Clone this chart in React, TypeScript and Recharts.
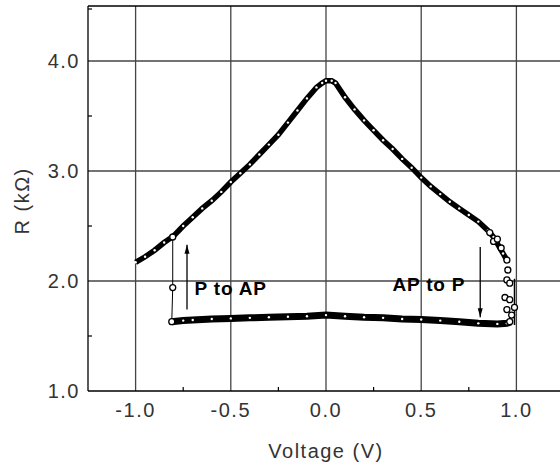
import React from 'react';
import { ScatterChart, Scatter, XAxis, YAxis, ReferenceLine, ReferenceDot } from 'recharts';

// AP branch (high resistance), sweep from -1.0 V to +0.95 V
const upperV = [-1.0, -0.95, -0.9, -0.85, -0.8, -0.75, -0.7, -0.65, -0.6, -0.55, -0.5, -0.45, -0.4, -0.35, -0.3, -0.25, -0.2, -0.15, -0.1, -0.05, -0.02, 0.0, 0.03, 0.05, 0.1, 0.15, 0.2, 0.25, 0.3, 0.35, 0.4, 0.45, 0.5, 0.55, 0.6, 0.65, 0.7, 0.75, 0.8, 0.85, 0.88, 0.91, 0.93, 0.95];
const upperR = [2.17, 2.22, 2.28, 2.35, 2.41, 2.5, 2.58, 2.66, 2.73, 2.81, 2.9, 2.98, 3.06, 3.15, 3.24, 3.33, 3.44, 3.55, 3.66, 3.76, 3.8, 3.82, 3.82, 3.8, 3.67, 3.56, 3.46, 3.37, 3.28, 3.2, 3.11, 3.03, 2.94, 2.86, 2.79, 2.72, 2.66, 2.6, 2.54, 2.46, 2.4, 2.31, 2.25, 2.19];

// AP -> P switching points near +1.0 V
const apToPV = [0.86, 0.88, 0.9, 0.92, 0.95, 0.955, 0.95, 0.965, 0.94, 0.965, 0.99, 0.95, 0.975, 0.965];
const apToPR = [2.44, 2.36, 2.38, 2.3, 2.19, 2.1, 2.01, 1.98, 1.85, 1.83, 1.76, 1.74, 1.69, 1.63];
const apToPLineV = [0.99, 0.99];
const apToPLineR = [2.02, 1.6];

// P branch (low resistance)
const lowerV = [-0.81, -0.75, -0.7, -0.6, -0.5, -0.4, -0.3, -0.2, -0.1, 0.0, 0.1, 0.2, 0.3, 0.4, 0.5, 0.6, 0.7, 0.8, 0.9, 0.95, 0.97];
const lowerR = [1.63, 1.64, 1.645, 1.655, 1.66, 1.665, 1.67, 1.675, 1.68, 1.69, 1.68, 1.67, 1.665, 1.655, 1.65, 1.64, 1.63, 1.615, 1.61, 1.615, 1.63];

// P -> AP switching near -0.8 V
const pToAPV = [-0.805, -0.805, -0.81];
const pToAPR = [2.4, 1.94, 1.63];

// Axis ticks
const xTicks = [-1.0, -0.75, -0.5, -0.25, 0.0, 0.25, 0.5, 0.75, 1.0];
const xMajor = [-1.0, -0.5, 0.0, 0.5, 1.0];
const yTicks = [1.0, 1.5, 2.0, 2.5, 3.0, 3.5, 4.0, 4.5];
const yMajor = [1.0, 2.0, 3.0, 4.0];
const yGrid = [2.0, 3.0, 4.0];

// Annotations
const arrowUp = { v: -0.73, from: 1.74, to: 2.33 };
const arrowDown = { v: 0.81, from: 2.31, to: 1.67 };
const labelPtoAP = { v: -0.69, r: 1.93, text: 'P to AP' };
const labelAPtoP = { v: 0.349, r: 1.97, text: 'AP to P' };

const zip = (xs: number[], ys: number[]) => xs.map((v, i) => ({ v, r: ys[i] }));

const upperData = zip(upperV, upperR);
const lowerData = zip(lowerV, lowerR);
const apToPData = zip(apToPV, apToPR);
const apToPLine = zip(apToPLineV, apToPLineR);
const pToAPData = zip(pToAPV, pToAPR);

const FONT = '"Liberation Sans", Arial, sans-serif';

const XTick = (props: any) => {
  const { x, y, payload } = props;
  const major = xMajor.includes(payload.value);
  if (!major) {
    return <line x1={x} x2={x} y1={y} y2={y - 4} stroke="#000" strokeWidth={1.2} />;
  }
  return (
    <text x={x} y={y + 19} textAnchor="middle" dominantBaseline="central" fontFamily={FONT} fontSize={20} letterSpacing={1.5} fill="#333">
      {payload.value.toFixed(1)}
    </text>
  );
};

const YTick = (props: any) => {
  const { x, y, payload } = props;
  const major = yMajor.includes(payload.value);
  if (!major) {
    return <line x1={x} x2={x + 4} y1={y} y2={y} stroke="#000" strokeWidth={1.2} />;
  }
  return (
    <text x={x - 8} y={y} textAnchor="end" dominantBaseline="central" fontFamily={FONT} fontSize={20} letterSpacing={1.5} fill="#333">
      {payload.value.toFixed(1)}
    </text>
  );
};

const bandDot = (p: any) => <circle cx={p.cx} cy={p.cy} r={1.2} fill="#fff" stroke="none" />;
const openCircle = (p: any) => <circle cx={p.cx} cy={p.cy} r={3} fill="#fff" stroke="#000" strokeWidth={1.3} />;
const noShape = () => <g />;

const arrowShape = (dir: 'up' | 'down') => (p: any) => {
  const { x1, y1, x2, y2 } = p;
  const tipY = dir === 'up' ? Math.min(y1, y2) : Math.max(y1, y2);
  const s = dir === 'up' ? 1 : -1;
  return (
    <g>
      <line x1={x1} y1={y1} x2={x2} y2={y2} stroke="#000" strokeWidth={1.3} />
      <polygon points={`${x1},${tipY} ${x1 - 2.5},${tipY + s * 9} ${x1 + 2.5},${tipY + s * 9}`} fill="#000" />
    </g>
  );
};

const textShape = (text: string) => (p: any) => (
  <text x={p.cx} y={p.cy} textAnchor="start" dominantBaseline="central" fontFamily={FONT} fontWeight="bold" fontSize={19} letterSpacing={0.8} fill="#000">
    {text}
  </text>
);

export default function App() {
  return (
    <div style={{ position: 'fixed', left: 0, top: 0, width: 560, height: 466, overflow: 'hidden', background: '#fff' }}>
      <ScatterChart width={610} height={466} margin={{ top: 6, right: 46, bottom: 0, left: 0 }}>
        <XAxis
          type="number"
          dataKey="v"
          domain={[-1.25, 1.25]}
          ticks={xTicks}
          tick={XTick}
          tickLine={false}
          tickSize={0}
          tickMargin={0}
          axisLine={{ stroke: '#000', strokeWidth: 1.3 }}
          height={75}
          allowDataOverflow
          label={{ value: 'Voltage (V)', position: 'insideBottom', offset: 8, fontFamily: FONT, fontSize: 20, letterSpacing: 1.5, fill: '#333' }}
        />
        <YAxis
          type="number"
          dataKey="r"
          domain={[1.0, 4.5]}
          ticks={yTicks}
          tick={YTick}
          tickLine={false}
          tickSize={0}
          tickMargin={0}
          axisLine={{ stroke: '#000', strokeWidth: 1.3 }}
          width={88}
          allowDataOverflow
          label={{ value: 'R (kΩ)', angle: -90, position: 'insideLeft', offset: 22, dy: 36, fontFamily: FONT, fontSize: 20, letterSpacing: 1.5, fill: '#333' }}
        />
        {xMajor.map((v) => (
          <ReferenceLine key={'gx' + v} x={v} stroke="#444" strokeWidth={1.3} />
        ))}
        {yGrid.map((v) => (
          <ReferenceLine key={'gy' + v} y={v} stroke="#444" strokeWidth={1.3} />
        ))}
        <ReferenceLine y={4.5} stroke="#000" strokeWidth={1.5} />

        <Scatter data={upperData} dataKey="r" line={{ stroke: '#000', strokeWidth: 5.5 }} shape={bandDot} isAnimationActive={false} />
        <Scatter data={lowerData} dataKey="r" line={{ stroke: '#000', strokeWidth: 7 }} shape={bandDot} isAnimationActive={false} />
        <Scatter data={apToPLine} dataKey="r" line={{ stroke: '#000', strokeWidth: 1.5 }} shape={noShape} isAnimationActive={false} />
        <Scatter data={apToPData} dataKey="r" shape={openCircle} isAnimationActive={false} />
        <Scatter data={pToAPData} dataKey="r" line={{ stroke: '#000', strokeWidth: 1 }} shape={openCircle} isAnimationActive={false} />

        <ReferenceLine segment={[{ x: arrowUp.v, y: arrowUp.from }, { x: arrowUp.v, y: arrowUp.to }]} shape={arrowShape('up')} />
        <ReferenceLine segment={[{ x: arrowDown.v, y: arrowDown.from }, { x: arrowDown.v, y: arrowDown.to }]} shape={arrowShape('down')} />
        <ReferenceDot x={labelPtoAP.v} y={labelPtoAP.r} r={0} shape={textShape(labelPtoAP.text)} />
        <ReferenceDot x={labelAPtoP.v} y={labelAPtoP.r} r={0} shape={textShape(labelAPtoP.text)} />
      </ScatterChart>
    </div>
  );
}
